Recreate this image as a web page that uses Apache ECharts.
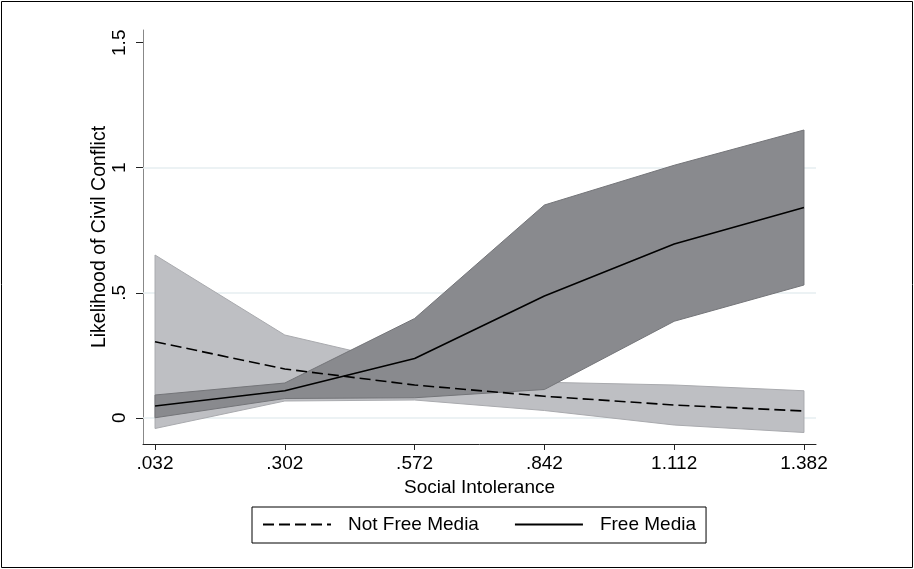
<!DOCTYPE html>
<html>
<head>
<meta charset="utf-8">
<script src="https://cdn.jsdelivr.net/npm/echarts@6/dist/echarts.min.js"></script>
<style>
  html, body { margin: 0; padding: 0; background: #fff; }
  #chart { width: 914px; height: 569px; }
</style>
</head>
<body>
<div id="chart"></div>
<script>
// Social intolerance levels at which predictions were computed
const xVals = [0.032, 0.302, 0.572, 0.842, 1.112, 1.382];
const xTickLabels = ['.032', '.302', '.572', '.842', '1.112', '1.382'];

const yTicks = [0, 0.5, 1, 1.5];
const yTickLabels = ['0', '.5', '1', '1.5'];
const yGridValues = [0, 0.5, 1];

// Predicted likelihood and confidence bounds — not free media
const notFreeMean  = [0.304, 0.195, 0.131, 0.086, 0.051, 0.027];
const notFreeLower = [-0.043, 0.067, 0.071, 0.029, -0.029, -0.059];
const notFreeUpper = [0.651, 0.331, 0.210, 0.142, 0.131, 0.108];

// Predicted likelihood and confidence bounds — free media
const freeMean  = [0.047, 0.108, 0.237, 0.487, 0.695, 0.841];
const freeLower = [0.000, 0.077, 0.080, 0.113, 0.386, 0.531];
const freeUpper = [0.091, 0.139, 0.397, 0.851, 1.010, 1.151];

const FONT = '"Liberation Sans", Arial, Helvetica, sans-serif';

function pairs(ys) { return xVals.map((x, i) => [x, ys[i]]); }

// Shaded confidence region drawn as one polygon through the axis scales
function band(name, lower, upper, fill, stroke, z) {
  return {
    type: 'custom',
    name: name,
    z: z,
    silent: true,
    clip: true,
    data: [[xVals[0], lower[0]]],
    renderItem: function (params, api) {
      const pts = [];
      for (let i = 0; i < xVals.length; i++) pts.push(api.coord([xVals[i], upper[i]]));
      for (let i = xVals.length - 1; i >= 0; i--) pts.push(api.coord([xVals[i], lower[i]]));
      return {
        type: 'polygon',
        shape: { points: pts },
        style: { fill: fill, stroke: stroke, lineWidth: 1 }
      };
    }
  };
}

const chart = echarts.init(document.getElementById('chart'), null, { renderer: 'canvas' });

chart.setOption({
  animation: false,
  backgroundColor: '#ffffff',
  textStyle: { fontFamily: FONT },
  graphic: [{
    type: 'rect',
    shape: { x: 1.5, y: 1.5, width: 911, height: 566 },
    style: { fill: null, stroke: '#000', lineWidth: 1 },
    silent: true, z: 100
  }],
  grid: { left: 143, right: 98, top: 30, bottom: 125, containLabel: false },
  xAxis: {
    type: 'value',
    min: 0.007,
    max: 1.407,
    name: 'Social Intolerance',
    nameLocation: 'middle',
    nameGap: 34,
    nameMoveOverlap: false,
    nameTextStyle: { fontSize: 19, color: '#000', fontFamily: FONT },
    axisLine: { show: true, onZero: false, lineStyle: { color: '#222', width: 1 } },
    axisTick: { show: true, length: 6, customValues: xVals, lineStyle: { color: '#222' } },
    axisLabel: {
      customValues: xVals,
      margin: 10,
      fontSize: 19,
      color: '#000',
      fontFamily: FONT,
      formatter: function (v) {
        const i = xVals.findIndex(x => Math.abs(x - v) < 1e-9);
        return i >= 0 ? xTickLabels[i] : '';
      }
    },
    splitLine: { show: false }
  },
  yAxis: {
    type: 'value',
    min: -0.105,
    max: 1.551,
    name: 'Likelihood of Civil Conflict',
    nameLocation: 'middle',
    nameRotate: 90,
    nameGap: 33,
    nameMoveOverlap: false,
    nameTextStyle: { fontSize: 19.5, color: '#000', fontFamily: FONT },
    axisLine: { show: true, onZero: false, lineStyle: { color: '#888', width: 1 } },
    axisTick: { show: true, length: 7, customValues: yTicks, lineStyle: { color: '#222' } },
    axisLabel: {
      customValues: yTicks,
      rotate: 90,
      margin: 14,
      fontSize: 19,
      color: '#000',
      fontFamily: FONT,
      formatter: function (v) {
        const i = yTicks.findIndex(t => Math.abs(t - v) < 1e-9);
        return i >= 0 ? yTickLabels[i] : '';
      }
    },
    splitLine: { show: false }
  },
  legend: {
    data: ['Not Free Media', 'Free Media'],
    left: 252,
    top: 507,
    orient: 'horizontal',
    selectedMode: false,
    borderColor: '#000',
    borderWidth: 1,
    borderRadius: 0,
    padding: [8, 10, 9, 10],
    itemWidth: 68,
    itemHeight: 14,
    itemGap: 35,
    itemStyle: { opacity: 0, borderWidth: 0 },
    textStyle: { fontSize: 19, color: '#000', fontFamily: FONT, padding: [0, 0, 0, 12] }
  },
  series: [
    // horizontal reference lines at the labelled y values
    {
      type: 'line',
      name: 'grid',
      data: [],
      silent: true,
      z: 1,
      markLine: {
        silent: true,
        symbol: 'none',
        z: 1,
        label: { show: false },
        lineStyle: { color: '#e6eef0', width: 1.5, type: 'solid' },
        data: yGridValues.map(v => ({ yAxis: v }))
      }
    },
    band('Not Free Media CI', notFreeLower, notFreeUpper, '#bebfc3', '#a9aaae', 10),
    band('Free Media CI', freeLower, freeUpper, '#898a8e', '#747579', 11),
    {
      type: 'line',
      name: 'Not Free Media',
      data: pairs(notFreeMean),
      symbol: 'none',
      z: 20,
      lineStyle: { color: '#000', width: 1.6, type: [11, 5] },
      itemStyle: { color: '#000' }
    },
    {
      type: 'line',
      name: 'Free Media',
      data: pairs(freeMean),
      symbol: 'none',
      z: 20,
      lineStyle: { color: '#000', width: 1.6, type: 'solid' },
      itemStyle: { color: '#000' }
    }
  ]
});
</script>
</body>
</html>
